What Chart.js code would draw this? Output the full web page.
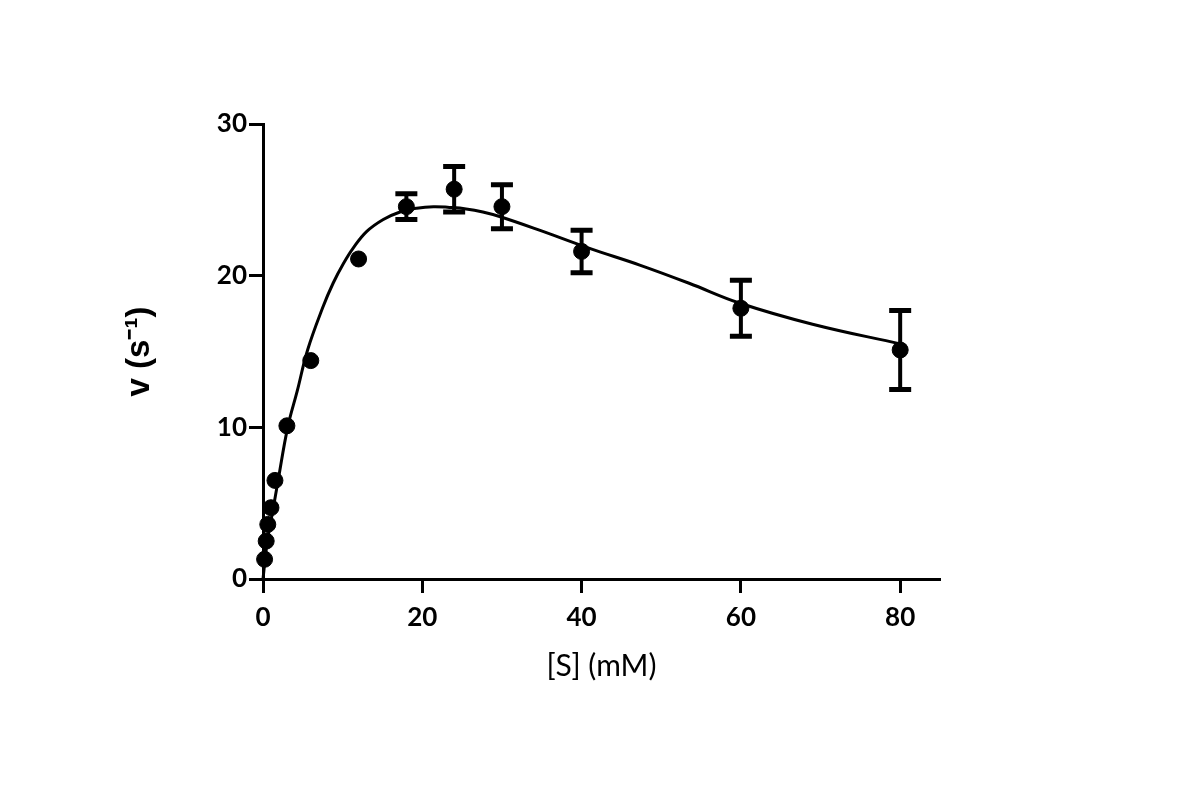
<!DOCTYPE html>
<html>
<head>
<meta charset="utf-8">
<script src="https://cdn.jsdelivr.net/npm/chart.js@4/dist/chart.umd.min.js"></script>
<style>
  body { margin: 0; background: #fff; }
  canvas { display: block; }
</style>
</head>
<body>
<canvas id="chart" width="1200" height="790"></canvas>
<script>
// measured points (mean +/- error)
let subsConc = [0.2, 0.4, 0.6, 1.0, 1.5, 3, 6, 12, 18, 24, 30, 40, 60, 80];
let rate = [1.3, 2.5, 3.6, 4.7, 6.5, 10.1, 14.4, 21.1, 24.55, 25.7, 24.55, 21.6, 17.85, 15.1];
let rateErr = [0, 0, 0, 0, 0, 0, 0, 0, 0.85, 1.5, 1.45, 1.4, 1.85, 2.6];

// fitted curve
let fitX = [0, 0.5, 1.3, 1.9, 3.1, 4.3, 5.6, 7.5, 8.8, 10.1, 11.3, 13.0, 15.1, 17.2, 19.3, 21.4, 23.4, 25.5, 27.6, 29.7, 34.7, 41, 47.3, 53.5, 59.8, 69, 80];
let fitY = [0, 2.3, 4.7, 6.5, 10.0, 12.4, 15.1, 17.9, 19.5, 20.8, 21.8, 22.9, 23.7, 24.2, 24.45, 24.55, 24.5, 24.4, 24.2, 23.9, 23.0, 21.8, 20.7, 19.5, 18.2, 16.8, 15.5];

let xTicks = [0, 20, 40, 60, 80];
let yTicks = [0, 10, 20, 30];

let canvas = null;
let ctx = null;

// error bars drawn with the chart's own scales
const errorBars = {
    id: 'errorBars',
    afterDatasetsDraw(chart) {
        const c = chart.ctx;
        const xs = chart.scales.x;
        const ys = chart.scales.y;
        c.save();
        c.strokeStyle = '#000';
        subsConc.forEach((s, i) => {
            if (!rateErr[i]) return;
            let px = xs.getPixelForValue(s);
            let top = ys.getPixelForValue(rate[i] + rateErr[i]);
            let bot = ys.getPixelForValue(rate[i] - rateErr[i]);
            c.lineWidth = 4;
            c.beginPath();
            c.moveTo(px, top);
            c.lineTo(px, bot);
            c.stroke();
            c.lineWidth = 5;
            c.beginPath();
            c.moveTo(px - 11, top);
            c.lineTo(px + 11, top);
            c.moveTo(px - 11, bot);
            c.lineTo(px + 11, bot);
            c.stroke();
        });
        c.restore();
    }
};

window.addEventListener("load", () => {
    canvas = document.getElementById("chart");
    ctx = canvas.getContext("2d");

    const axisGrid = {
        display: true,
        drawOnChartArea: false,
        drawTicks: true,
        tickLength: 14,
        tickWidth: 3,
        tickColor: '#000'
    };

    new Chart(ctx, {
        type: 'scatter',
        data: {
            datasets: [{
                type: 'line',
                data: fitX.map((x, i) => ({x: x, y: fitY[i]})),
                borderColor: '#000',
                borderWidth: 3,
                pointRadius: 0,
                fill: false,
                tension: 0.4,
                clip: false
            }, {
                data: subsConc.map((x, i) => ({x: x, y: rate[i]})),
                backgroundColor: '#000',
                borderColor: '#000',
                pointRadius: 8,
                pointHoverRadius: 8,
                clip: false
            }]
        },
        options: {
            responsive: false,
            animation: false,
            events: [],
            layout: {
                padding: {left: 0, top: 124, right: 260, bottom: 0}
            },
            plugins: {
                legend: {display: false},
                tooltip: {enabled: false}
            },
            scales: {
                x: {
                    type: 'linear',
                    min: 0,
                    max: 85,
                    afterBuildTicks: (scale) => { scale.ticks = xTicks.map(v => ({value: v})); },
                    afterFit: (scale) => { scale.height = 211; },
                    grid: axisGrid,
                    border: {display: true, color: '#000', width: 3},
                    ticks: {
                        color: '#000',
                        padding: 9,
                        font: {family: 'Lato', weight: 'bold', size: 26}
                    },
                    title: {
                        display: true,
                        text: '[S] (mM)',
                        color: '#000',
                        font: {family: 'Lato', size: 30},
                        padding: {bottom: 106}
                    }
                },
                y: {
                    type: 'linear',
                    min: 0,
                    max: 30,
                    afterBuildTicks: (scale) => { scale.ticks = yTicks.map(v => ({value: v})); },
                    afterFit: (scale) => { scale.width = 263; },
                    grid: axisGrid,
                    border: {display: true, color: '#000', width: 3},
                    ticks: {
                        color: '#000',
                        padding: 2,
                        font: {family: 'Lato', weight: 'bold', size: 26}
                    },
                    title: {
                        display: true,
                        text: 'v (s\u207B\u00B9)',
                        color: '#000',
                        font: {family: 'Liberation Sans', weight: 'bold', size: 33},
                        padding: {top: 120}
                    }
                }
            }
        },
        plugins: [errorBars]
    });
});
</script>
</body>
</html>
